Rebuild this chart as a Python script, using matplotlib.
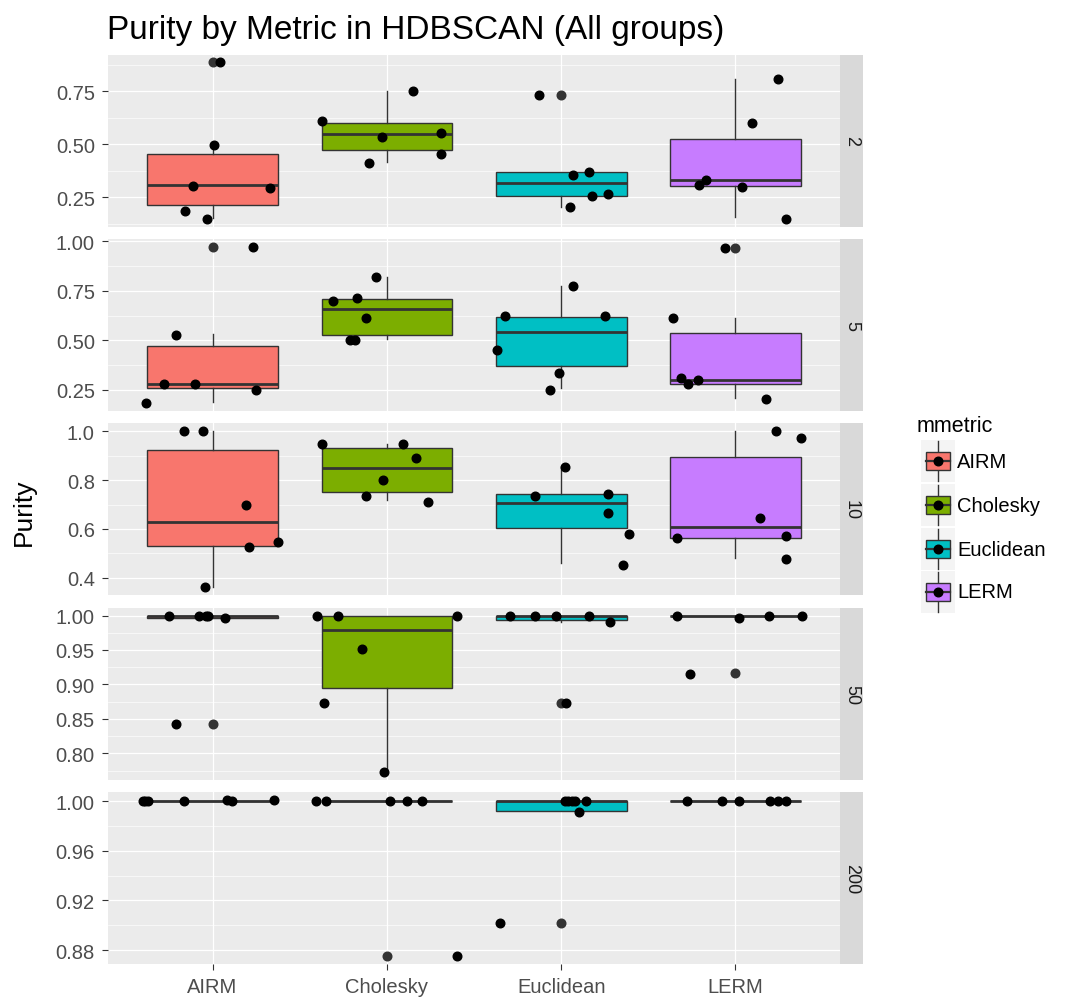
import numpy as np
import matplotlib
matplotlib.use("Agg")
import matplotlib.pyplot as plt
from matplotlib.patches import Rectangle

plt.rcParams['font.family'] = ['Liberation Sans', 'DejaVu Sans']

metrics = ["AIRM", "Cholesky", "Euclidean", "LERM"]
fills = ["#F8766D", "#7CAE00", "#00BFC4", "#C77CFF"]
facets = ["2", "5", "10", "50", "200"]

# purity values per metric (jittered points) and their horizontal jitter
pts_2 = [[0.886, 0.498, 0.301, 0.293, 0.186, 0.149],
         [0.609, 0.75, 0.534, 0.553, 0.454, 0.41],
         [0.734, 0.354, 0.367, 0.258, 0.266, 0.205],
         [0.806, 0.598, 0.31, 0.33, 0.30, 0.149]]
jit_2 = [[0.04, 0.01, -0.11, 0.33, -0.16, -0.03],
         [-0.37, 0.15, -0.03, 0.31, 0.31, -0.10],
         [-0.126, 0.067, 0.16, 0.175, 0.27, 0.05],
         [0.246, 0.095, -0.21, -0.17, 0.04, 0.29]]
# box stats: (lower whisker, q1, median, q3, upper whisker)
box_2 = [(0.15, 0.213, 0.306, 0.454, 0.477),
         (0.418, 0.474, 0.55, 0.598, 0.753),
         (0.205, 0.255, 0.317, 0.367, 0.367),
         (0.157, 0.301, 0.33, 0.526, 0.806)]
out_2 = [[0.886], [], [0.734], []]

pts_5 = [[0.973, 0.524, 0.279, 0.279, 0.247, 0.182],
         [0.821, 0.699, 0.716, 0.611, 0.499, 0.499],
         [0.622, 0.775, 0.622, 0.335, 0.25, 0.45],
         [0.964, 0.611, 0.309, 0.279, 0.297, 0.203]]
jit_5 = [[0.234, -0.21, -0.28, -0.10, 0.25, -0.38],
         [-0.065, -0.31, -0.17, -0.12, -0.21, -0.18],
         [-0.32, 0.067, 0.25, -0.01, -0.063, -0.37],
         [-0.057, -0.357, -0.313, -0.27, -0.214, 0.177]]
box_5 = [(0.19, 0.257, 0.28, 0.47, 0.53),
         (0.507, 0.524, 0.656, 0.707, 0.82),
         (0.258, 0.369, 0.541, 0.619, 0.775),
         (0.208, 0.279, 0.30, 0.534, 0.614)]
out_5 = [[0.973], [], [], [0.964]]

pts_10 = [[1.0, 1.0, 0.697, 0.525, 0.546, 0.361],
          [0.947, 0.947, 0.892, 0.799, 0.736, 0.712],
          [0.736, 0.743, 0.667, 0.854, 0.581, 0.454],
          [1.0, 0.972, 0.643, 0.565, 0.572, 0.479]]
jit_10 = [[-0.164, -0.055, 0.19, 0.21, 0.376, -0.046],
          [-0.37, 0.095, 0.168, -0.024, -0.12, 0.234],
          [-0.149, 0.267, 0.267, 0.023, 0.39, 0.357],
          [0.233, 0.374, 0.14, -0.334, 0.288, 0.288]]
box_10 = [(0.365, 0.532, 0.629, 0.921, 1.0),
          (0.718, 0.75, 0.85, 0.931, 0.947),
          (0.461, 0.604, 0.708, 0.743, 0.854),
          (0.483, 0.563, 0.608, 0.893, 1.0)]
out_10 = [[], [], [], []]

pts_50 = [[1.0, 1.0, 1.0, 1.0, 0.996, 0.843],
          [1.0, 1.0, 1.0, 0.952, 0.873, 0.773],
          [1.0, 1.0, 1.0, 1.0, 0.99, 0.873],
          [1.0, 0.996, 1.0, 1.0, 0.915]]
jit_50 = [[-0.25, -0.08, -0.04, -0.026, 0.073, -0.21],
          [-0.40, -0.28, 0.40, -0.14, -0.36, -0.014],
          [-0.296, -0.149, -0.03, 0.162, 0.28, 0.027],
          [-0.334, 0.019, 0.193, 0.382, -0.26]]
box_50 = [(0.996, 0.996, 1.0, 1.0, 1.0),
          (0.773, 0.895, 0.979, 1.0, 1.0),
          (0.99, 0.994, 0.999, 1.0, 1.0),
          (0.999, 0.999, 1.0, 1.0, 1.0)]
out_50 = [[0.843], [], [0.873], [0.917]]

pts_200 = [[1.0, 1.0, 1.0, 1.0, 1.001, 1.0, 1.001],
           [1.0, 1.0, 1.0, 1.0, 1.0, 0.875],
           [1.0, 1.0, 1.0, 1.0, 1.0, 0.991, 0.902],
           [1.0, 1.0, 1.0, 1.0, 1.0, 1.0]]
jit_200 = [[-0.40, -0.385, -0.37, -0.164, 0.08, 0.11, 0.35],
           [-0.406, -0.347, 0.016, 0.115, 0.2, 0.40],
           [0.023, 0.042, 0.061, 0.08, 0.143, 0.10, -0.35],
           [-0.28, -0.076, 0.019, 0.197, 0.244, 0.29]]
box_200 = [(1.0, 1.0, 1.0, 1.0, 1.0),
           (1.0, 1.0, 1.0, 1.0, 1.0),
           (0.992, 0.992, 1.0, 1.0, 1.0),
           (1.0, 1.0, 1.0, 1.0, 1.0)]
out_200 = [[], [0.875], [0.902], []]

yticks = [[0.25, 0.50, 0.75],
          [0.25, 0.50, 0.75, 1.00],
          [0.4, 0.6, 0.8, 1.0],
          [0.80, 0.85, 0.90, 0.95, 1.00],
          [0.88, 0.92, 0.96, 1.00]]
ytick_fmt = ["%.2f", "%.2f", "%.1f", "%.2f", "%.2f"]

all_pts = [pts_2, pts_5, pts_10, pts_50, pts_200]
all_jit = [jit_2, jit_5, jit_10, jit_50, jit_200]
all_box = [box_2, box_5, box_10, box_50, box_200]
all_out = [out_2, out_5, out_10, out_50, out_200]

W, H = 1090, 1003
fig = plt.figure(figsize=(W / 100, H / 100), dpi=100)
fig.patch.set_facecolor("white")

left, right = 108, 840
top0, ph, step = 55.5, 172, 184.4
strip_w = 23
bg = "#EBEBEB"
dark = "#333333"
pos = np.arange(1, 5)

for i, fac in enumerate(facets):
    t = top0 + i * step
    ax = fig.add_axes([left / W, 1 - (t + ph) / H, (right - left) / W, ph / H])
    ax.set_facecolor(bg)
    for s in ax.spines.values():
        s.set_visible(False)

    pts, jit, box, out = all_pts[i], all_jit[i], all_box[i], all_out[i]

    vals = [v for g in pts for v in g] + [v for b in box for v in b]
    lo, hi = min(vals), max(vals)
    pad = 0.05 * (hi - lo)
    ax.set_ylim(lo - pad, hi + pad)
    ax.set_xlim(0.4, 4.6)

    # grid: white majors, thinner minors halfway between
    tk = yticks[i]
    d = tk[1] - tk[0]
    minors = np.arange(tk[0] - d / 2, hi + pad, d)
    for m in minors:
        ax.axhline(m, color="white", lw=0.45, zorder=0)
    for m in tk:
        ax.axhline(m, color="white", lw=0.9, zorder=0)
    for p in pos:
        ax.axvline(p, color="white", lw=0.9, zorder=0)

    stats = []
    for j in range(4):
        wl, q1, med, q3, wh = box[j]
        stats.append(dict(whislo=wl, q1=q1, med=med, q3=q3, whishi=wh,
                          fliers=out[j]))
    bp = ax.bxp(stats, positions=pos, widths=0.75, patch_artist=True,
                showcaps=False,
                boxprops=dict(edgecolor=dark, linewidth=1.0),
                medianprops=dict(color=dark, linewidth=2.0),
                whiskerprops=dict(color=dark, linewidth=1.0),
                flierprops=dict(marker="o", markerfacecolor=dark,
                                markeredgecolor=dark, markersize=6.2))
    for patch, c in zip(bp["boxes"], fills):
        patch.set_facecolor(c)
    for artist in bp["boxes"] + bp["medians"] + bp["whiskers"] + bp["fliers"]:
        artist.set_zorder(2)

    for j in range(4):
        xs = pos[j] + np.array(jit[j])
        ax.plot(xs, pts[j], "o", color="black", ms=6.2, zorder=3, ls="none")

    ax.set_yticks(tk)
    ax.set_yticklabels([ytick_fmt[i] % v for v in tk])
    ax.tick_params(axis="y", length=4.5, width=0.8, color=dark,
                   labelcolor="#4D4D4D", labelsize=14.5, pad=5)
    ax.set_xticks(pos)
    if i == len(facets) - 1:
        ax.set_xticklabels(metrics)
        ax.tick_params(axis="x", length=4.5, width=0.8, color=dark,
                       labelcolor="#4D4D4D", labelsize=14.5, pad=5)
    else:
        ax.tick_params(axis="x", length=0, labelbottom=False)

    # facet strip on the right
    sax = fig.add_axes([right / W, 1 - (t + ph) / H, strip_w / W, ph / H])
    sax.set_facecolor("#D9D9D9")
    sax.set_xticks([])
    sax.set_yticks([])
    for s in sax.spines.values():
        s.set_visible(False)
    sax.text(0.5, 0.5, fac, rotation=270, ha="center", va="center",
             fontsize=13, color="#1A1A1A", transform=sax.transAxes)

fig.text(107 / W, 1 - 31 / H, "Purity by Metric in HDBSCAN (All groups)",
         fontsize=24, color="black", ha="left", va="center")
fig.text(24 / W, 1 - 512 / H, "Purity", rotation=90, fontsize=19,
         color="black", ha="center", va="center")

# legend drawn in pixel coordinates
lg = fig.add_axes([0, 0, 1, 1], zorder=10)
lg.set_xlim(0, W)
lg.set_ylim(H, 0)
lg.axis("off")
lg.patch.set_alpha(0)
lg.text(917, 426, "mmetric", fontsize=15.5, color="black", va="center", ha="left")
row_y = [462, 506, 550, 593]
kx = 937.5
for name, c, cy in zip(metrics, fills, row_y):
    lg.add_patch(Rectangle((kx - 17, cy - 21), 34, 42, facecolor="#F4F4F4",
                           edgecolor="none", zorder=1))
    lg.plot([kx, kx], [cy - 20, cy + 20], color=dark, lw=1.0, zorder=2)
    lg.add_patch(Rectangle((kx - 12, cy - 9), 24, 18, facecolor=c,
                           edgecolor=dark, lw=1.0, zorder=3))
    lg.plot([kx - 12, kx + 12], [cy, cy], color=dark, lw=1.6, zorder=4)
    lg.plot([kx], [cy], "o", color="black", ms=6.2, zorder=5)
    lg.text(957, cy, name, fontsize=14.5, color="black", va="center", ha="left")

fig.savefig("out.png", dpi=100)
